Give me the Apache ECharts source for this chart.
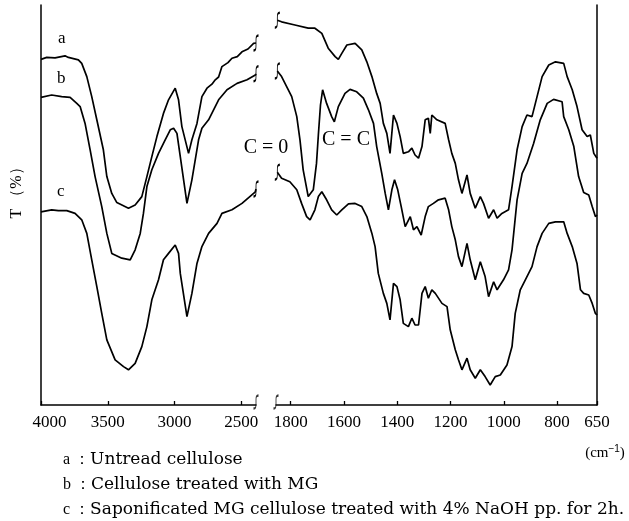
<!DOCTYPE html>
<html><head><meta charset="utf-8">
<script src="https://cdn.jsdelivr.net/npm/echarts@6/dist/echarts.min.js"></script>
<style>html,body{margin:0;padding:0;background:#fff}#c{width:629px;height:521px}</style>
</head><body><div id="c"></div>
<script>
// Tick labels (wavenumber, cm-1)
const ticksHigh = [4000, 3500, 3000, 2500];
const ticksLow = [1800, 1600, 1400, 1200, 1000, 800, 650];
const rangeHigh = [2390, 4000];
const rangeLow = [650, 1855];

// Curve a : Untread cellulose  [wavenumber, T]
const aHigh = [[4000,86.4],[3957,86.9],[3895,86.8],[3820,87.3],[3795,86.9],[3720,86.3],[3695,85.4],[3657,82.1],[3620,77.1],[3582,71.3],[3533,63.8],[3507,57.1],[3470,52.9],[3432,50.6],[3345,49.2],[3295,50],[3245,52.1],[3207,57.1],[3170,62.1],[3132,67.1],[3083,72.9],[3045,76.3],[2995,79.2],[2970,76.3],[2945,69.6],[2895,62.9],[2870,66.3],[2832,70.4],[2795,77.1],[2757,79.2],[2720,80.2],[2695,81.3],[2670,82.0],[2645,84.6],[2600,85.6],[2570,86.7],[2530,87.1],[2495,88.3],[2450,89.0],[2408,90.4],[2390,90.5]];
const aLow = [[1850,96.2],[1834,95.8],[1784,95],[1734,94.2],[1709,94.2],[1683,92.9],[1659,89.2],[1633,87.1],[1621,86.4],[1608,87.9],[1589,90],[1558,90.4],[1533,88.8],[1514,85.8],[1495,82.1],[1477,77.9],[1464,75.4],[1452,70.4],[1439,67.9],[1427,62.9],[1414,72.5],[1401,70.4],[1389,67.1],[1377,62.9],[1358,63.3],[1345,64.2],[1333,62.5],[1320,61.7],[1307,64.6],[1295,71.3],[1283,71.7],[1276,67.9],[1270,72.5],[1251,71.3],[1220,70.4],[1207,66.3],[1195,62.9],[1182,60.4],[1170,56.3],[1157,52.9],[1138,57.5],[1126,52.9],[1107,49.2],[1088,52.1],[1076,50.4],[1057,46.7],[1038,48.8],[1025,46.7],[1007,47.9],[982,48.8],[969,54.6],[950,63.8],[931,69.6],[913,72.5],[894,72.1],[875,77.1],[856,82.1],[831,85],[806,85.8],[775,85.4],[762,82.1],[743,78.8],[725,74.6],[706,68.8],[687,67.1],[675,67.5],[662,62.9],[650,61.7]];

// Curve b : Cellulose treated with MG
const bHigh = [[4000,76.9],[3920,77.5],[3845,77.1],[3782,76.9],[3732,75.4],[3707,74.6],[3670,70.4],[3632,63.8],[3595,57.1],[3545,49.6],[3507,42.9],[3470,37.9],[3395,36.7],[3332,36.3],[3295,38.8],[3257,42.9],[3233,47.9],[3207,54.6],[3170,58.8],[3120,62.9],[3070,66.3],[3032,68.8],[3007,69.2],[2982,67.9],[2957,62.1],[2907,50.4],[2870,56.3],[2820,66.3],[2795,69.2],[2745,71.3],[2670,76.3],[2607,78.8],[2532,80.4],[2457,81.3],[2395,82.5],[2390,82.8]];
const bLow = [[1850,83.5],[1834,82.1],[1815,79.6],[1796,77.1],[1777,72.1],[1765,66.3],[1753,58.8],[1734,52.1],[1715,53.8],[1703,60.4],[1696,67.5],[1688,75],[1680,78.8],[1665,75.4],[1646,72.1],[1636,70.8],[1621,74.6],[1596,77.9],[1577,78.9],[1552,78.3],[1527,76.7],[1508,73.8],[1489,70.4],[1477,64.6],[1458,57.9],[1445,52.9],[1433,48.8],[1420,53.8],[1410,56.3],[1398,53.8],[1385,49.6],[1370,44.6],[1351,47.1],[1339,43.8],[1326,44.6],[1310,42.5],[1295,47.1],[1283,49.6],[1264,50.4],[1245,51.3],[1220,51.7],[1207,48.8],[1195,44.6],[1182,41.3],[1170,37.1],[1157,34.6],[1138,40.4],[1126,36.3],[1107,31.3],[1088,35.8],[1070,32.1],[1057,27.1],[1038,30.8],[1025,28.8],[1001,31.3],[982,33.8],[969,38.8],[950,51.3],[931,57.9],[913,60.4],[888,65.4],[863,71.3],[837,75.4],[813,76.4],[781,75.8],[775,72.1],[756,68.8],[737,64.6],[719,57.1],[700,53.1],[681,52.5],[668,49.6],[656,47.1],[650,47.5]];

// Curve c : Saponificated MG cellulose
const cHigh = [[4000,48.3],[3920,48.8],[3870,48.6],[3807,48.6],[3745,47.9],[3695,46.3],[3657,42.9],[3620,36.3],[3582,29.6],[3545,22.9],[3507,16.3],[3445,11.3],[3382,9.6],[3345,8.8],[3295,10.4],[3245,14.6],[3207,19.6],[3170,26.3],[3120,31.3],[3083,36.3],[3045,37.9],[2995,40],[2970,37.9],[2957,32.9],[2907,22.1],[2870,27.9],[2832,35.4],[2795,39.6],[2745,42.9],[2682,45.4],[2645,47.9],[2570,48.8],[2495,50.4],[2395,53.3],[2390,54]];
const cLow = [[1850,58.2],[1834,56.7],[1803,55.8],[1777,53.8],[1759,50.4],[1740,47.1],[1727,46.3],[1709,48.8],[1696,52.1],[1683,53.3],[1665,51.3],[1646,48.8],[1627,47.5],[1608,48.8],[1583,50.3],[1558,50.4],[1533,49.6],[1514,47.1],[1495,42.9],[1483,39.6],[1471,32.9],[1452,27.9],[1439,25.4],[1427,21.3],[1414,30.4],[1401,29.6],[1389,26.3],[1377,20.4],[1358,19.6],[1345,21.7],[1333,20],[1320,20],[1307,27.9],[1295,29.6],[1283,26.7],[1270,28.8],[1257,27.9],[1232,25.4],[1213,24.6],[1201,18.8],[1182,13.8],[1170,11.3],[1157,8.8],[1138,11.7],[1126,8.8],[1107,6.7],[1088,8.8],[1070,7.1],[1051,5],[1032,7.1],[1013,7.5],[988,10],[969,14.6],[957,22.9],[938,28.8],[919,31.3],[894,34.6],[875,39.6],[856,42.9],[831,45.4],[806,45.8],[775,45.8],[762,42.9],[743,39.6],[725,35.4],[712,28.8],[700,27.9],[681,27.5],[668,25.4],[656,22.9],[650,22.5]];

const legendLines = [
  ['a', 'Untread cellulose'],
  ['b', 'Cellulose treated with MG'],
  ['c', 'Saponificated MG cellulose treated with 4% NaOH pp. for 2h.']
];

const FONT = '"Liberation Serif","DejaVu Serif",serif';
const FONT2 = '"DejaVu Serif","Liberation Serif",serif';
const BRK = 'path://M4,0 C2,0 2,2 2,5 L2,9 C2,12 2,14 0,14';
const brkItem = (p) => ({ value: p, symbol: BRK, symbolSize: [5, 15],
  itemStyle: { color: 'rgba(0,0,0,0)', borderColor: '#000', borderWidth: 1.4 } });

function withBreak(arr, atEnd) {
  const d = arr.map(p => p.slice());
  if (atEnd) d[d.length - 1] = brkItem(d[d.length - 1]);
  else d[0] = brkItem(d[0]);
  return d;
}

function lineSeries(data, idx, atEnd) {
  return {
    type: 'line', xAxisIndex: idx, yAxisIndex: idx,
    data: withBreak(data, atEnd), symbol: 'none', showSymbol: true,
    smooth: false, silent: true,
    lineStyle: { color: '#000', width: 1.7 },
    itemStyle: { color: '#000' }
  };
}

const axisLabelStyle = { color: '#000', fontFamily: FONT, fontSize: 17, margin: 9 };

const chart = echarts.init(document.getElementById('c'), null, { renderer: 'canvas' });
chart.setOption({
  animation: false,
  backgroundColor: '#fff',
  grid: [
    { left: 41, right: 629 - 256, top: 5, bottom: 116 },
    { left: 276, right: 629 - 597, top: 5, bottom: 116 }
  ],
  xAxis: [
    { type: 'value', gridIndex: 0, min: rangeHigh[0], max: rangeHigh[1], inverse: true,
      axisLine: { show: true, onZero: false, lineStyle: { color: '#000', width: 1.5 } },
      axisTick: { show: true, inside: true, length: 4, customValues: ticksHigh, lineStyle: { color: '#000', width: 1.3 } },
      axisLabel: Object.assign({ customValues: ticksHigh,
        formatter: v => v === 4000 ? '{f|' + v + '}' : String(v),
        rich: { f: { fontFamily: FONT, fontSize: 17, color: '#000', padding: [0, 0, 0, 17] } } }, axisLabelStyle),
      splitLine: { show: false } },
    { type: 'value', gridIndex: 1, min: rangeLow[0], max: rangeLow[1], inverse: true,
      axisLine: { show: true, onZero: false, lineStyle: { color: '#000', width: 1.5 } },
      axisTick: { show: true, inside: true, length: 4, customValues: ticksLow, lineStyle: { color: '#000', width: 1.3 } },
      axisLabel: Object.assign({ customValues: ticksLow, formatter: v => String(v) }, axisLabelStyle),
      splitLine: { show: false } }
  ],
  yAxis: [
    { type: 'value', gridIndex: 0, min: 0, max: 100,
      axisLine: { show: true, lineStyle: { color: '#000', width: 1.5 } },
      axisTick: { show: false }, axisLabel: { show: false }, splitLine: { show: false } },
    { type: 'value', gridIndex: 1, min: 0, max: 100, position: 'right',
      axisLine: { show: true, lineStyle: { color: '#000', width: 1.5 } },
      axisTick: { show: false }, axisLabel: { show: false }, splitLine: { show: false } }
  ],
  series: [
    lineSeries(aHigh, 0, true), lineSeries(bHigh, 0, true), lineSeries(cHigh, 0, true),
    lineSeries(aLow, 1, false), lineSeries(bLow, 1, false), lineSeries(cLow, 1, false),
    { type: 'scatter', xAxisIndex: 0, yAxisIndex: 0, silent: true,
      data: [[rangeHigh[0], 0]], symbol: BRK, symbolSize: [5, 13], symbolOffset: [0, -3],
      itemStyle: { color: 'rgba(0,0,0,0)', borderColor: '#000', borderWidth: 1.4 } },
    { type: 'scatter', xAxisIndex: 1, yAxisIndex: 1, silent: true,
      data: [[rangeLow[1], 0]], symbol: BRK, symbolSize: [5, 13], symbolOffset: [0, -3],
      itemStyle: { color: 'rgba(0,0,0,0)', borderColor: '#000', borderWidth: 1.4 } }
  ],
  graphic: [
    { type: 'text', left: 58, top: 30, style: { text: 'a', font: '17px ' + FONT, fill: '#000' } },
    { type: 'text', left: 57, top: 70, style: { text: 'b', font: '17px ' + FONT, fill: '#000' } },
    { type: 'text', left: 57, top: 183, style: { text: 'c', font: '17px ' + FONT, fill: '#000' } },
    { type: 'text', x: 266, y: 148, style: { text: 'C = 0', font: '20px ' + FONT, fill: '#000', align: 'center', verticalAlign: 'middle' } },
    { type: 'text', x: 346, y: 140, style: { text: 'C = C', font: '20px ' + FONT, fill: '#000', align: 'center', verticalAlign: 'middle' } },
    { type: 'text', x: 17, y: 189, rotation: Math.PI / 2,
      style: { text: 'T （%）', font: '16px ' + FONT, fill: '#000', align: 'center', verticalAlign: 'middle' } },
    { type: 'text', x: 605, y: 453,
      style: { text: '(cm{s|−1})', font: '15px ' + FONT, fill: '#000', align: 'center', verticalAlign: 'middle',
        rich: { s: { fontSize: 10, verticalAlign: 'top', padding: [0, 0, 7, 0] } } } }
  ].concat(legendLines.map((l, i) => ({
    type: 'text', left: 63, top: 451 + i * 25,
    style: { text: '{k|' + l[0] + ' ：}{t|' + l[1] + '}', fill: '#000',
      rich: { k: { font: '16px ' + FONT, fill: '#000' }, t: { font: '17px ' + FONT2, fill: '#000' } } }
  })))
});
</script>
</body></html>
